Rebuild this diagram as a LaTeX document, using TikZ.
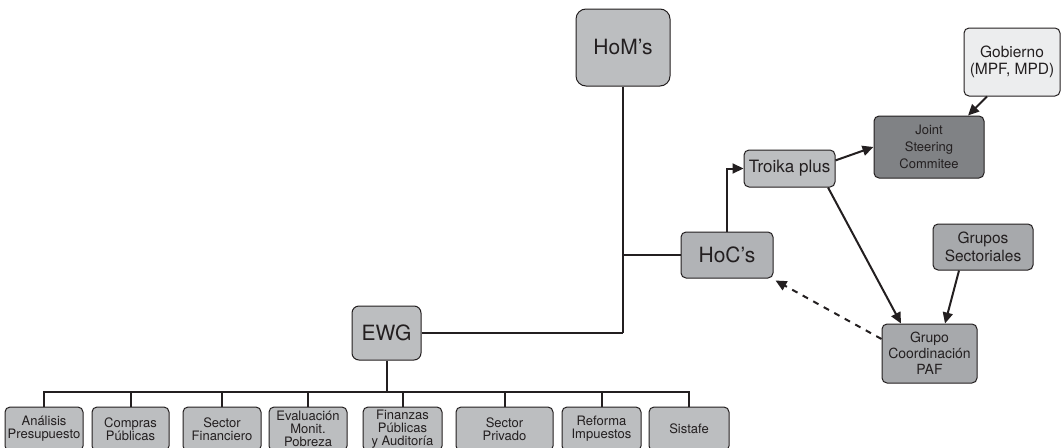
\documentclass[tikz,border=0pt]{standalone}
\usepackage{fontspec}
\setmainfont{TeX Gyre Heros}
\usetikzlibrary{arrows.meta,calc}
\definecolor{ink}{HTML}{231F20}
\definecolor{gA}{HTML}{BCBEC0}
\definecolor{gB}{HTML}{B1B3B6}
\definecolor{gC}{HTML}{A7A9AC}
\definecolor{gD}{HTML}{808285}
\definecolor{gE}{HTML}{ECEDEE}
\tikzset{
  box/.style={draw=ink, line width=1pt, rounded corners=5pt, align=center, inner sep=0pt, text=ink, fill=gA},
  small/.style={box, minimum height=44pt, font=\fontsize{13}{13}\selectfont},
  conn/.style={draw=ink, line width=2pt},
  arr/.style={conn, -{Triangle[length=11pt,width=10pt]}},
}
\begin{document}
\begin{tikzpicture}[x=1pt,y=-1pt]
\useasboundingbox (0,0) rectangle (1064,447);
\clip (0,0) rectangle (1064,447);

% top-level nodes
\node[box, rounded corners=10pt, minimum width=94pt, minimum height=77pt, font=\fontsize{21}{24}\selectfont] (hom) at (623,47.5) {HoM’s};
\node[box, rounded corners=7pt, minimum width=69pt, minimum height=54pt, font=\fontsize{21}{24}\selectfont] (ewg) at (386.5,333) {EWG};
\node[box, fill=gB, minimum width=92pt, minimum height=46pt, font=\fontsize{21}{24}\selectfont] (hoc) at (727,255) {HoC’s};
\node[box, fill=gA, minimum width=91pt, minimum height=37pt, font=\fontsize{17}{20}\selectfont] (troika) at (789.5,168.5) {Troika plus};
\node[box, fill=gD, minimum width=110pt, minimum height=62pt, font=\fontsize{13}{17}\selectfont] (joint) at (929,147) {Joint\\Steering\\Commitee};
\node[box, fill=gE, minimum width=96pt, minimum height=68pt, font=\fontsize{15.5}{16.5}\selectfont] (gob) at (1012,62) {Gobierno\\(MPF, MPD)};
\node[box, fill=gC, minimum width=100pt, minimum height=46pt, font=\fontsize{15.5}{18}\selectfont] (gs) at (983,247) {Grupos\\Sectoriales};
\node[box, fill=gC, minimum width=95pt, minimum height=59pt, font=\fontsize{14}{16}\selectfont] (gc) at (929.5,353.5) {Grupo\\Coordinación\\PAF};

% bottom row
\node[small, minimum width=78pt] (b1) at (44,429) {Análisis\\Presupuesto};
\node[small, minimum width=77pt] (b2) at (130.5,429) {Compras\\Públicas};
\node[small, minimum width=78pt] (b3) at (222,429) {Sector\\Financiero};
\node[small, minimum width=78pt] (b4) at (308,429) {Evaluación\\Monit.\\Pobreza};
\node[small, minimum width=79pt] (b5) at (402.5,429) {Finanzas\\Públicas\\y Auditoría};
\node[small, minimum width=97pt] (b6) at (504.5,429) {Sector\\Privado};
\node[small, minimum width=79pt] (b7) at (601.5,429) {Reforma\\Impuestos};
\node[small, minimum width=80pt] (b8) at (689,429) {Sistafe};

\coordinate (bus) at (0,392);
\coordinate (hj) at (623,333);

% tree lines
\draw[conn] (hom.south) -- (hj);
\draw[conn] (ewg.east) -- (hj);
\draw[conn] (hoc.west) -- (hoc.west -| hom.south);
\draw[conn] (ewg.south) -- (ewg.south |- bus);
\draw[conn, line cap=rect] (b1.north |- bus) -- (b8.north |- bus);
\foreach \b in {b1,b2,b3,b4,b5,b6,b7,b8}
  \draw[conn] (\b.north) -- (\b.north |- bus);

% arrows
\draw[arr] (hoc.north) |- (troika.west);
\draw[arr] (troika.10) -- (joint.west);
\draw[arr] ([xshift=-25pt]gob.south) -- ([xshift=39pt]joint.north);
\draw[arr] ([xshift=38.5pt]troika.south) -- ([xshift=-28.5pt]gc.north);
\draw[arr] ([xshift=-24pt]gs.south) -- ([xshift=15.5pt]gc.north);
\draw[arr, dash pattern=on 6pt off 6pt] ([yshift=14.5pt]gc.west) -- ([xshift=2pt,yshift=-2pt]hoc.south east);
\end{tikzpicture}
\end{document}
